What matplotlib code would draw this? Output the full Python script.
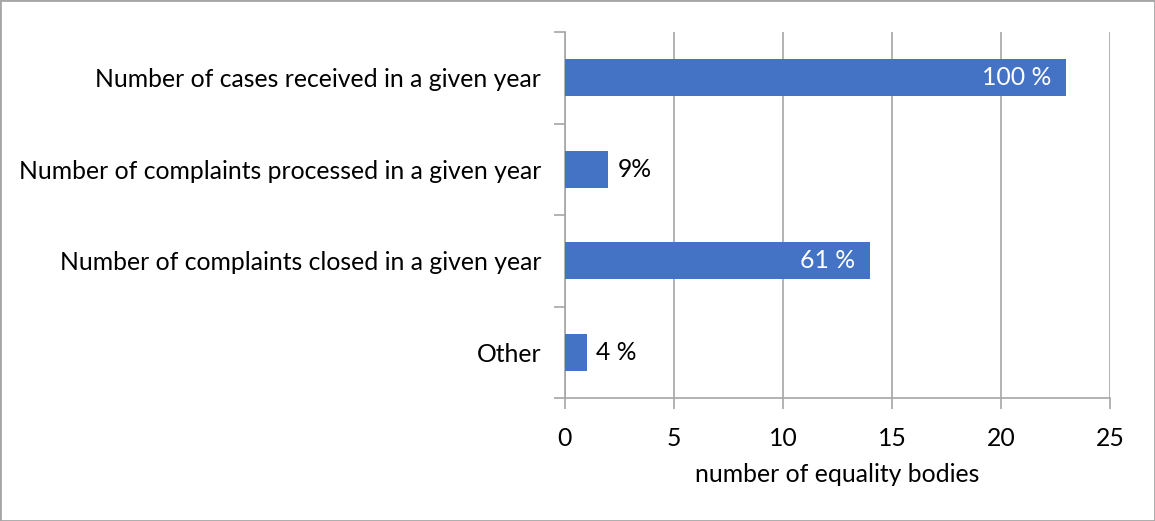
import matplotlib
matplotlib.use("Agg")
import matplotlib.pyplot as plt
from matplotlib.patches import Rectangle

# Data
categories = [
    "Number of cases received in a given year",
    "Number of complaints processed in a given year",
    "Number of complaints closed in a given year",
    "Other",
]
counts = [23, 2, 14, 1]
labels = ["100 %", "9%", "61 %", "4 %"]
inside = [True, False, True, False]

plt.rcParams['font.family'] = ['Lato', 'DejaVu Sans']
FS = 17.8

fig = plt.figure(figsize=(11.55, 5.21), dpi=100)
ax = fig.add_axes([0.489, 0.236, 0.472, 0.7025])

y = list(range(len(categories)))[::-1]
bars = ax.barh(y, counts, height=0.4, color="#4472C4", zorder=3)

for bar, lab, ins in zip(bars, labels, inside):
    w = bar.get_width()
    yc = bar.get_y() + bar.get_height() / 2
    if ins:
        ax.text(w - 0.7, yc, lab, ha="right", va="center", color="white", fontsize=FS)
    else:
        ax.text(w + 0.45, yc, lab, ha="left", va="center", color="black", fontsize=FS)

ax.set_xlim(0, 25)
ax.set_ylim(-0.5, 3.5)
ax.set_xticks(range(0, 26, 5))
ax.set_yticks(y)
ax.set_yticklabels(categories, fontsize=FS)
ax.set_yticks([-0.5, 0.5, 1.5, 2.5, 3.5], minor=True)
ax.tick_params(axis="y", which="major", length=0, pad=17)
ax.tick_params(axis="y", which="minor", length=8, color="#a6a6a6", width=1.2)
ax.tick_params(axis="x", length=8, color="#a6a6a6", width=1.2, labelsize=FS, pad=13)
ax.set_xlabel("number of equality bodies", fontsize=FS, labelpad=9)

ax.grid(axis="x", color="#a6a6a6", linewidth=1.2, zorder=0)
for s in ["top", "right"]:
    ax.spines[s].set_visible(False)
for s in ["left", "bottom"]:
    ax.spines[s].set_color("#a6a6a6")
    ax.spines[s].set_linewidth(1.2)

fig.patches.append(Rectangle((0, 0), 1, 1, transform=fig.transFigure,
                             fill=False, edgecolor="#a6a6a6", linewidth=2))

fig.savefig("out.png", dpi=100)
